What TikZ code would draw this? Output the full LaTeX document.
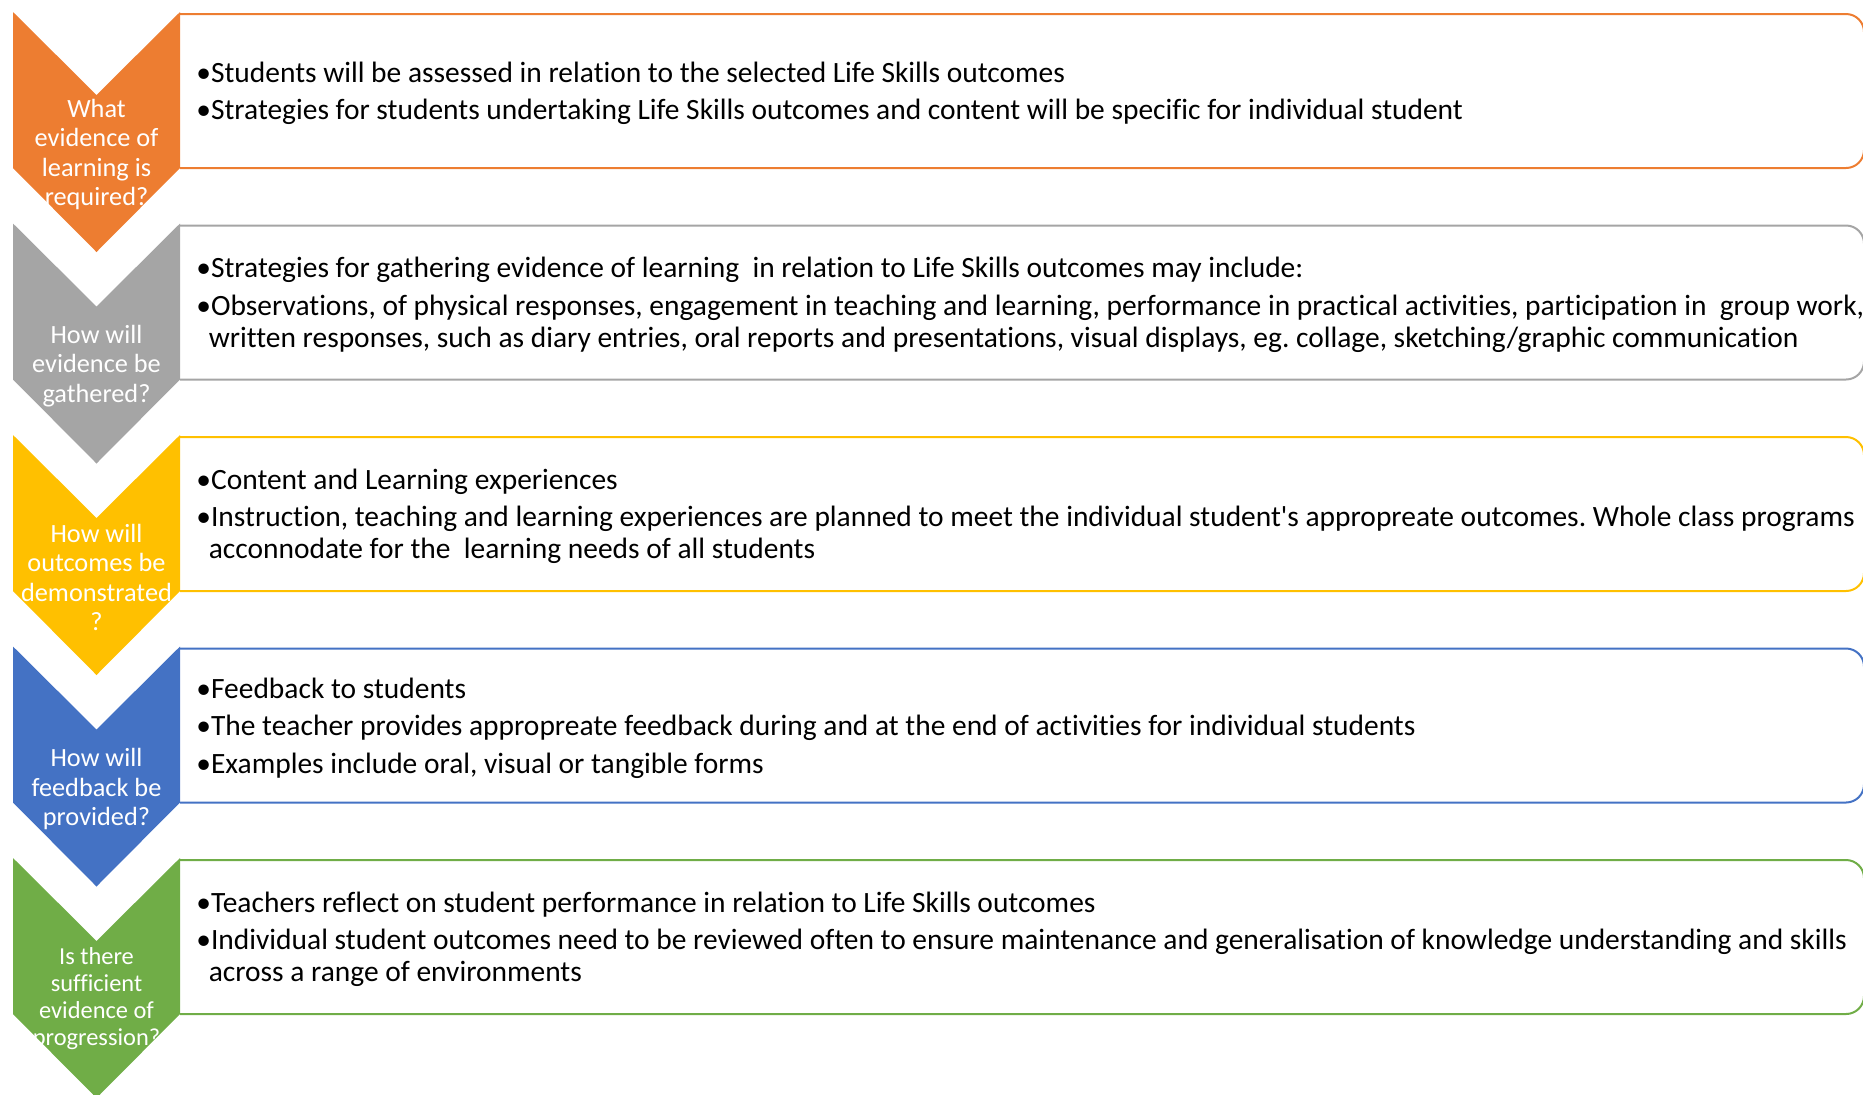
\documentclass[tikz,border=0pt]{standalone}
\usepackage{fontspec}
\setmainfont{Carlito}[Ligatures={TeXOff,NoCommon}]
\frenchspacing
\definecolor{stepOrange}{HTML}{ED7D31}
\definecolor{stepGray}{HTML}{A5A5A5}
\definecolor{stepGold}{HTML}{FFC000}
\definecolor{stepBlue}{HTML}{4472C4}
\definecolor{stepGreen}{HTML}{70AD47}
\begin{document}
\begin{tikzpicture}
        [x=0.5pt, y=-0.5pt,
        chev/.style={draw=none},
        panel/.style={line width=1pt, rounded corners=9pt},
        ask/.style={white, align=center, inner sep=0pt, font=\fontsize{13.15}{14.75}\selectfont},
        smallask/.style={ask, font=\fontsize{12.2}{13.5}\selectfont},
        info/.style={black, anchor=west, align=left, inner sep=0pt, font=\fontsize{14.73}{16}\selectfont}]

        \clip (0,0) rectangle (1863,1094);

        % outlined panels (open on the left, hidden by the chevrons)
        \draw[panel, stepOrange] (180,14) -- (1864,14) -- (1864,168) -- (180,168);
        \draw[panel, stepGray] (180,225.5) -- (1864,225.5) -- (1864,379.5) -- (180,379.5);
        \draw[panel, stepGold] (180,437) -- (1864,437) -- (1864,591) -- (180,591);
        \draw[panel, stepBlue] (180,648.5) -- (1864,648.5) -- (1864,802.5) -- (180,802.5);
        \draw[panel, stepGreen] (180,860) -- (1864,860) -- (1864,1014) -- (180,1014);

        % chevrons
        \fill[chev, stepOrange] (13,12) -- (96.5,95) -- (180,12) -- (180,168) -- (96.5,252) -- (13,168) -- cycle;
        \fill[chev, stepGray] (13,223.5) -- (96.5,306.5) -- (180,223.5) -- (180,379.5) -- (96.5,463.5) -- (13,379.5) -- cycle;
        \fill[chev, stepGold] (13,435) -- (96.5,518) -- (180,435) -- (180,591) -- (96.5,675) -- (13,591) -- cycle;
        \fill[chev, stepBlue] (13,646.5) -- (96.5,729.5) -- (180,646.5) -- (180,802.5) -- (96.5,886.5) -- (13,802.5) -- cycle;
        \fill[chev, stepGreen] (13,858) -- (96.5,941) -- (180,858) -- (180,1014) -- (96.5,1098) -- (13,1014) -- cycle;

        \node[ask] (askEvidence) at (96.5,154.5) {What\\evidence of\\learning is\\required?};
        \node[ask] (askGather) at (96.5,366) {How will\\evidence be\\gathered?};
        \node[ask] (askShow) at (96.5,577.5) {How will\\outcomes be\\demonstrated\\?};
        \node[ask] (askFeedback) at (96.5,789) {How will\\feedback be\\provided?};
        \node[smallask] (askProgress) at (96.5,999) {Is there\\sufficient\\evidence of\\progression?};

        % panel texts
        \node[info] (infoEvidence) at (196,93.5) {•Students will be assessed in relation to the selected Life Skills outcomes\\[2.75pt]
            •Strategies for students undertaking Life Skills outcomes and content will be specific for individual student};
        \node[info] (infoGather) at (196,305) {•Strategies for gathering evidence of learning\ \ in relation to Life Skills outcomes may include:\\[2.75pt]
            •Observations, of physical responses, engagement in teaching and learning, performance in practical activities, participation in\ \ group work,\\
            \hspace*{0.42em}written responses, such as diary entries, oral reports and presentations, visual displays, eg. collage, sketching/graphic communication};
        \node[info] (infoShow) at (196,516.5) {•Content and Learning experiences\\[2.75pt]
            •Instruction, teaching and learning experiences are planned to meet the individual student's appropreate outcomes. Whole class programs\\
            \hspace*{0.42em}acconnodate for the\ \ learning needs of all students};
        \node[info] (infoFeedback) at (196,728) {•Feedback to students\\[2.75pt]
            •The teacher provides appropreate feedback during and at the end of activities for individual students\\[2.75pt]
            •Examples include oral, visual or tangible forms};
        \node[info] (infoProgress) at (196,939.5) {•Teachers reflect on student performance in relation to Life Skills outcomes\\[2.75pt]
            •Individual student outcomes need to be reviewed often to ensure maintenance and generalisation of knowledge understanding and skills\\
            \hspace*{0.42em}across a range of environments};

    \end{tikzpicture}
\end{document}
